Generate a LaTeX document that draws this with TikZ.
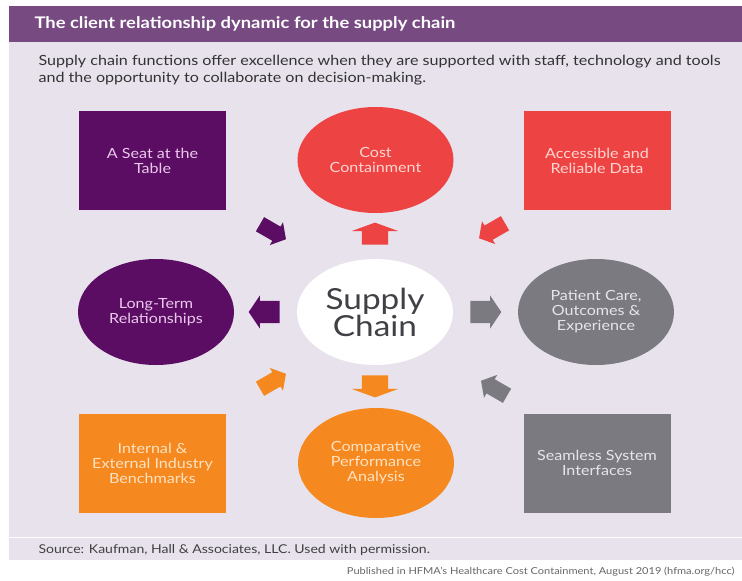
\documentclass[tikz,border=0pt]{standalone}
\usepackage{fontspec}
\setmainfont{Lato}[FakeStretch=1.15]
\usetikzlibrary{shapes.geometric,shapes.arrows}
\definecolor{barpurple}{HTML}{774A82}
\definecolor{panel}{HTML}{E7E2EC}
\definecolor{plum}{HTML}{5A0D62}
\definecolor{plumtext}{HTML}{EBC9EC}
\definecolor{tomato}{HTML}{EE4343}
\definecolor{tomatotext}{HTML}{FFD6D2}
\definecolor{slate}{HTML}{7B7A80}
\definecolor{slatetext}{HTML}{E6E6EA}
\definecolor{amber}{HTML}{F5891F}
\definecolor{ambertext}{HTML}{FFE2C2}
\definecolor{inkgrey}{HTML}{404046}

\begin{document}
\begin{tikzpicture}[x=1pt,y=-1pt,
    every node/.style={font=\fontsize{14}{15}\selectfont},
    box/.style={rectangle,minimum width=147pt,minimum height=99pt,align=center,inner sep=0pt},
    oval/.style={ellipse,minimum width=156pt,minimum height=106pt,align=center,inner sep=0pt},
    blk/.style={single arrow,inner xsep=0pt,draw=none},
    harrow/.style={blk,minimum height=31pt,inner ysep=11pt,single arrow head extend=5.5pt,single arrow tip angle=112},
    varrow/.style={blk,minimum height=22pt,inner ysep=13pt,single arrow head extend=10pt,single arrow tip angle=140},
    darrow/.style={blk,minimum height=30pt,inner ysep=8pt,single arrow head extend=5pt,single arrow tip angle=100}]
    \clip (0,0) rectangle (742,581);
    \fill[white] (0,0) rectangle (742,581);
    % header and panel
    \fill[barpurple] (9,6) rectangle (742,42);
    \fill[panel] (9,42) rectangle (742,560);
    \draw[white,line width=1pt] (9,537) -- (742,537);
    \node[anchor=west,text=white,font=\bfseries\fontsize{16}{18}\selectfont] (title) at (31,24) {The client relationship dynamic for the supply chain};
    \node[anchor=west,align=left,text=black!80,font=\fontsize{14}{17}\selectfont] (intro) at (35,70) {Supply chain functions offer excellence when they are supported with staff, technology and tools\\and the opportunity to collaborate on decision-making.};
    % top row
    \node[box,fill=plum,text=plumtext] (seat) at (152.5,160.5) {A Seat at the\\Table};
    \node[oval,fill=tomato,text=tomatotext] (cost) at (375.5,160) {Cost\\Containment};
    \node[box,fill=tomato,text=tomatotext] (data) at (597,160.5) {Accessible and\\Reliable Data};
    % middle row
    \node[oval,fill=plum,text=plumtext] (longterm) at (156,312) {Long-Term\\Relationships};
    \node[oval,fill=white,text=inkgrey,font=\fontsize{29}{27}\selectfont] (sc) at (375,312) {Supply\\Chain};
    \node[oval,fill=slate,text=slatetext] (care) at (596,312) {Patient Care,\\Outcomes \&\\Experience};
    % bottom row
    \node[box,fill=amber,text=ambertext] (bench) at (152.5,463) {Internal \&\\External Industry\\Benchmarks};
    \node[oval,fill=amber,text=ambertext,minimum height=110pt] (cpa) at (376,463) {Comparative\\Performance\\Analysis};
    \node[box,fill=slate,text=slatetext] (seamless) at (597,463) {Seamless System\\Interfaces};
    % block arrows
    \node[varrow,fill=tomato,rotate=90] (tocost) at (375,236) {};
    \node[harrow,fill=plum,rotate=180] (tolong) at (268,312) {};
    \node[harrow,fill=slate] (tocare) at (482,312) {};
    \node[varrow,fill=amber,rotate=-90] (tocpa) at (375,384) {};
    \node[darrow,fill=plum,rotate=-30] (fromseat) at (270,230) {};
    \node[darrow,fill=tomato,rotate=-150] (fromdata) at (495,229) {};
    \node[darrow,fill=amber,rotate=30] (frombench) at (270,383) {};
    \node[darrow,fill=slate,rotate=150] (fromseamless) at (497,390) {};
    % footer
    \node[anchor=west,text=black!75,font=\fontsize{12.2}{15}\selectfont] (source) at (35,550) {Source: Kaufman, Hall \& Associates, LLC. Used with permission.};
    \node[anchor=east,text=black!60,font=\fontsize{9.6}{12}\selectfont] (pub) at (738,572) {Published in HFMA's Healthcare Cost Containment, August 2019 (hfma.org/hcc)};
\end{tikzpicture}
\end{document}
